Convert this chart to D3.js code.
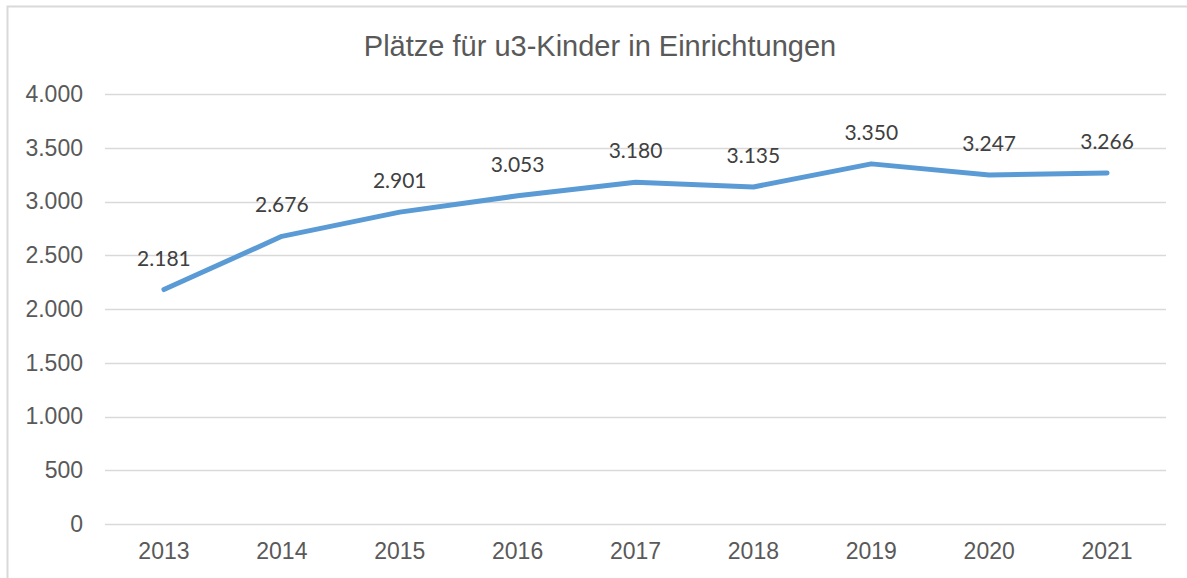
<!DOCTYPE html>
<html>
<head>
<meta charset="utf-8">
<script src="https://cdn.jsdelivr.net/npm/d3@7"></script>
<style>
  body { margin: 0; background: #fff; }
  svg { display: block; }
</style>
</head>
<body>
<svg id="chart" width="1187" height="578"></svg>
<script>
// Daten.
const years = ["2013", "2014", "2015", "2016", "2017", "2018", "2019", "2020", "2021"];
const places = [2181, 2676, 2901, 3053, 3180, 3135, 3350, 3247, 3266];
const yTicks = [0, 500, 1000, 1500, 2000, 2500, 3000, 3500, 4000];

const svg = d3.select("#chart");
const margin = { left: 105, right: 21, top: 94, bottom: 54 };
const width = 1187, height = 578;

// Deutsches Zahlenformat: Punkt als Tausendertrennzeichen.
const de = d3.formatLocale({ decimal: ",", thousands: ".", grouping: [3], currency: ["", " €"] });
const fmt = de.format(",.0f");

// Rahmen des Diagrammbereichs (rechts offen).
svg.append("rect")
    .attr("x", 7.5)
    .attr("y", 6.5)
    .attr("width", 1200)
    .attr("height", 600)
    .attr("fill", "none")
    .attr("stroke", "#d9d9d9")
    .attr("stroke-width", 2);

svg.append("text")
    .attr("x", 600)
    .attr("y", 56)
    .attr("text-anchor", "middle")
    .attr("font-family", "Liberation Sans, Arial, sans-serif")
    .attr("font-size", 29)
    .attr("fill", "#595959")
    .text("Plätze für u3-Kinder in Einrichtungen");

const x = d3.scaleBand()
    .domain(years)
    .range([margin.left, width - margin.right]);

const y = d3.scaleLinear()
    .domain([0, 4000])
    .range([height - margin.bottom, margin.top]);

// Gitterlinien.
svg.append("g")
    .selectAll("line")
    .data(yTicks)
    .enter()
    .append("line")
    .attr("x1", margin.left)
    .attr("x2", width - margin.right)
    .attr("y1", function(d) { return Math.round(y(d)) + 0.5; })
    .attr("y2", function(d) { return Math.round(y(d)) + 0.5; })
    .attr("stroke", "#d9d9d9")
    .attr("stroke-width", 1.5);

// Y-Achse.
const yAxis = svg.append("g")
    .attr("transform", "translate(" + margin.left + ",0)")
    .call(d3.axisLeft(y).tickValues(yTicks).tickFormat(fmt).tickSize(0).tickPadding(22));
yAxis.select(".domain").remove();
yAxis.selectAll("text")
    .attr("font-family", "Liberation Sans, Arial, sans-serif")
    .attr("font-size", 23)
    .attr("fill", "#595959");

// X-Achse.
const xAxis = svg.append("g")
    .attr("transform", "translate(0," + (height - margin.bottom) + ")")
    .call(d3.axisBottom(x).tickSize(0).tickPadding(19));
xAxis.select(".domain").remove();
xAxis.selectAll("text")
    .attr("font-family", "Liberation Sans, Arial, sans-serif")
    .attr("font-size", 23)
    .attr("fill", "#595959");

const cx = function(d, i) { return x(years[i]) + x.bandwidth() / 2; };

// Linie.
const line = d3.line()
    .x(cx)
    .y(function(d) { return y(d); });

svg.append("path")
    .datum(places)
    .attr("d", line)
    .attr("fill", "none")
    .attr("stroke", "#5b9bd5")
    .attr("stroke-width", 5)
    .attr("stroke-linejoin", "round")
    .attr("stroke-linecap", "round");

// Datenbeschriftungen.
svg.append("g")
    .selectAll("text")
    .data(places)
    .enter()
    .append("text")
    .attr("x", cx)
    .attr("y", function(d) { return y(d) - 24; })
    .attr("text-anchor", "middle")
    .attr("font-family", "Lato, Open Sans, sans-serif")
    .attr("font-size", 21)
    .attr("fill", "#404040")
    .text(fmt);
</script>
</body>
</html>
